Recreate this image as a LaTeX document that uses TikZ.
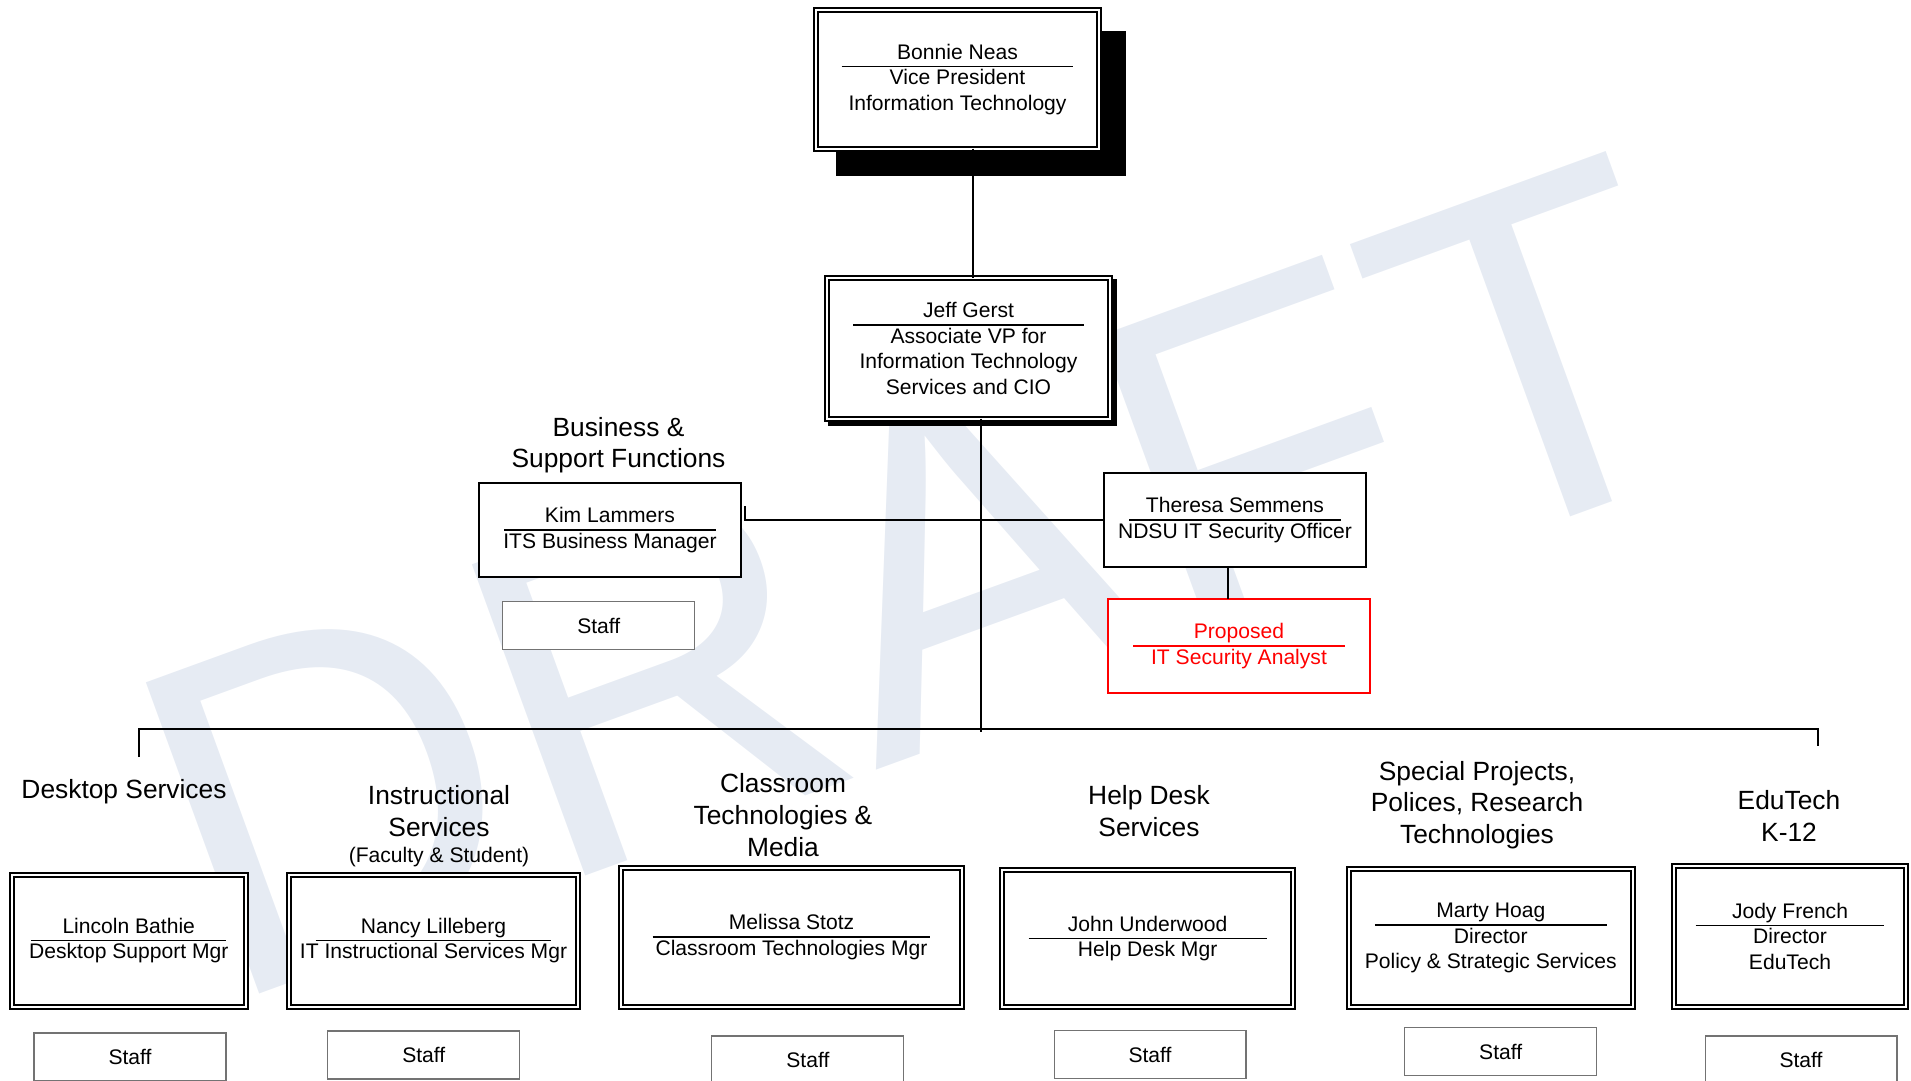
\documentclass[tikz,border=0pt]{standalone}
\usepackage{fontspec}
\setmainfont{Liberation Sans}
\usetikzlibrary{backgrounds}

\definecolor{draftblue}{RGB}{230,235,243}
\newcommand{\nameline}[1]{\\[-10pt]\rule{#1}{0.8pt}\\[-4.5pt]}

\begin{document}
\begin{tikzpicture}[
    x=0.02cm, y=-0.02cm,
    box/.style={rectangle, draw=black, fill=white, line width=1.1pt, inner sep=0pt, outer sep=0pt, align=center, font=\fontsize{12}{14.5}\selectfont},
    dbox/.style={box, line width=1pt, double=white, double distance=1.3pt},
    proposed/.style={box, draw=red, text=red},
    staff/.style={box, draw=black!55, line width=0.6pt, minimum width=3.84cm, minimum height=0.96cm},
    group/.style={align=center, font=\fontsize{15}{18}\selectfont},
    conn/.style={line width=0.8pt},
    bus/.style={line width=1pt},
    draft/.style={text=draftblue, inner sep=0pt, font=\fontsize{274}{274}\selectfont}
]

\useasboundingbox (0,0) rectangle (1911,1081);

% Top of the chart
\node[dbox, minimum width=5.65cm, minimum height=2.77cm] (vp) at (957.5,79.5)
    {Bonnie Neas\nameline{4.64cm}Vice President\\Information Technology};
\node[dbox, minimum width=5.65cm, minimum height=2.81cm] (cio) at (968.5,348.5)
    {Jeff Gerst\nameline{4.62cm}Associate VP for\\Information Technology\\Services and CIO};

% Business side and security
\node[group] (bizlbl) at (618.5,445) {Business \&\\Support Functions};
\node[box, minimum width=5.24cm, minimum height=1.88cm] (biz) at (610,530)
    {Kim Lammers\nameline{4.24cm}ITS Business Manager};
\node[box, minimum width=5.25cm, minimum height=1.89cm] (sec) at (1235,520)
    {Theresa Semmens\nameline{4.24cm}NDSU IT Security Officer};
\node[proposed, minimum width=5.24cm, minimum height=1.88cm] (prop) at (1239,646)
    {Proposed\nameline{4.24cm}IT Security Analyst};

% Group headings of the bottom row
\node[group] (desklbl) at (124,792) {Desktop Services};
\node[group] (instrlbl) at (439,811) {Instructional\\Services};
\node[font=\fontsize{12}{14.5}\selectfont] (faclbl) at (439,857) {(Faculty \& Student)};
\node[group] (classlbl) at (783,815) {Classroom\\Technologies \&\\Media};
\node[group] (helplbl) at (1149,811) {Help Desk\\Services};
\node[group] (speclbl) at (1477,805) {Special Projects,\\Polices, Research\\Technologies};
\node[group] (edulbl) at (1789,816) {EduTech\\K-12};

% Managers
\node[dbox, minimum width=4.68cm, minimum height=2.64cm] (desk) at (128.75,940.75)
    {Lincoln Bathie\nameline{3.9cm}Desktop Support Mgr};
\node[dbox, minimum width=5.77cm, minimum height=2.64cm] (instr) at (433.5,940.75)
    {Nancy Lilleberg\nameline{4.72cm}IT Instructional Services Mgr};
\node[dbox, minimum width=6.81cm, minimum height=2.78cm] (class) at (791.5,937.25)
    {Melissa Stotz\nameline{5.56cm}Classroom Technologies Mgr};
\node[dbox, minimum width=5.82cm, minimum height=2.74cm] (help) at (1147.6,938.35)
    {John Underwood\nameline{4.76cm}Help Desk Mgr};
\node[dbox, minimum width=5.68cm, minimum height=2.75cm] (spec) at (1490.8,938)
    {Marty Hoag\nameline{4.64cm}Director\\Policy \& Strategic Services};
\node[dbox, minimum width=4.63cm, minimum height=2.82cm] (edu) at (1790,936.25)
    {Jody French\nameline{3.78cm}Director\\EduTech};

% Staff boxes
\foreach \n/\x/\y in {biz/598.8/625.9, desk/130/1057, instr/423.8/1055, class/807.9/1060,
    help/1150/1054.7, spec/1500.7/1051.8, edu/1801/1060} {
    \node[staff] (staff\n) at (\x,\y) {Staff};
}

% Reporting lines
\draw[conn] ([shift={(15.5,0)}]vp.south) -- ([shift={(4.5,0)}]cio.north);
\coordinate (busL) at (139,729);
\coordinate (busR) at (1818,729);
\coordinate (ciodrop) at ([shift={(12.5,0)}]cio.south);
\draw[conn] (ciodrop) -- (ciodrop |- busL) -- ++(0,3);
\draw[bus] ([shift={(0,28)}]busL) -- (busL) -- (busR) -- ++(0,17);
\draw[conn] ([shift={(4,-24)}]biz.east) |- (sec.west);
\coordinate (secdrop) at ([shift={(-7,0)}]sec.south);
\draw[conn] (secdrop) -- (secdrop |- prop.north);

% Watermark and shadows
\begin{scope}[on background layer]
    \node[draft, anchor=base west, rotate=20] (draft) at (222,1008) {DRAFT};
    \fill ([shift={(20,21)}]vp.north west) rectangle ([shift={(27,27)}]vp.south east);
    \fill ([shift={(1,1)}]cio.north west) rectangle ([shift={(7,7)}]cio.south east);
\end{scope}

\end{tikzpicture}
\end{document}
